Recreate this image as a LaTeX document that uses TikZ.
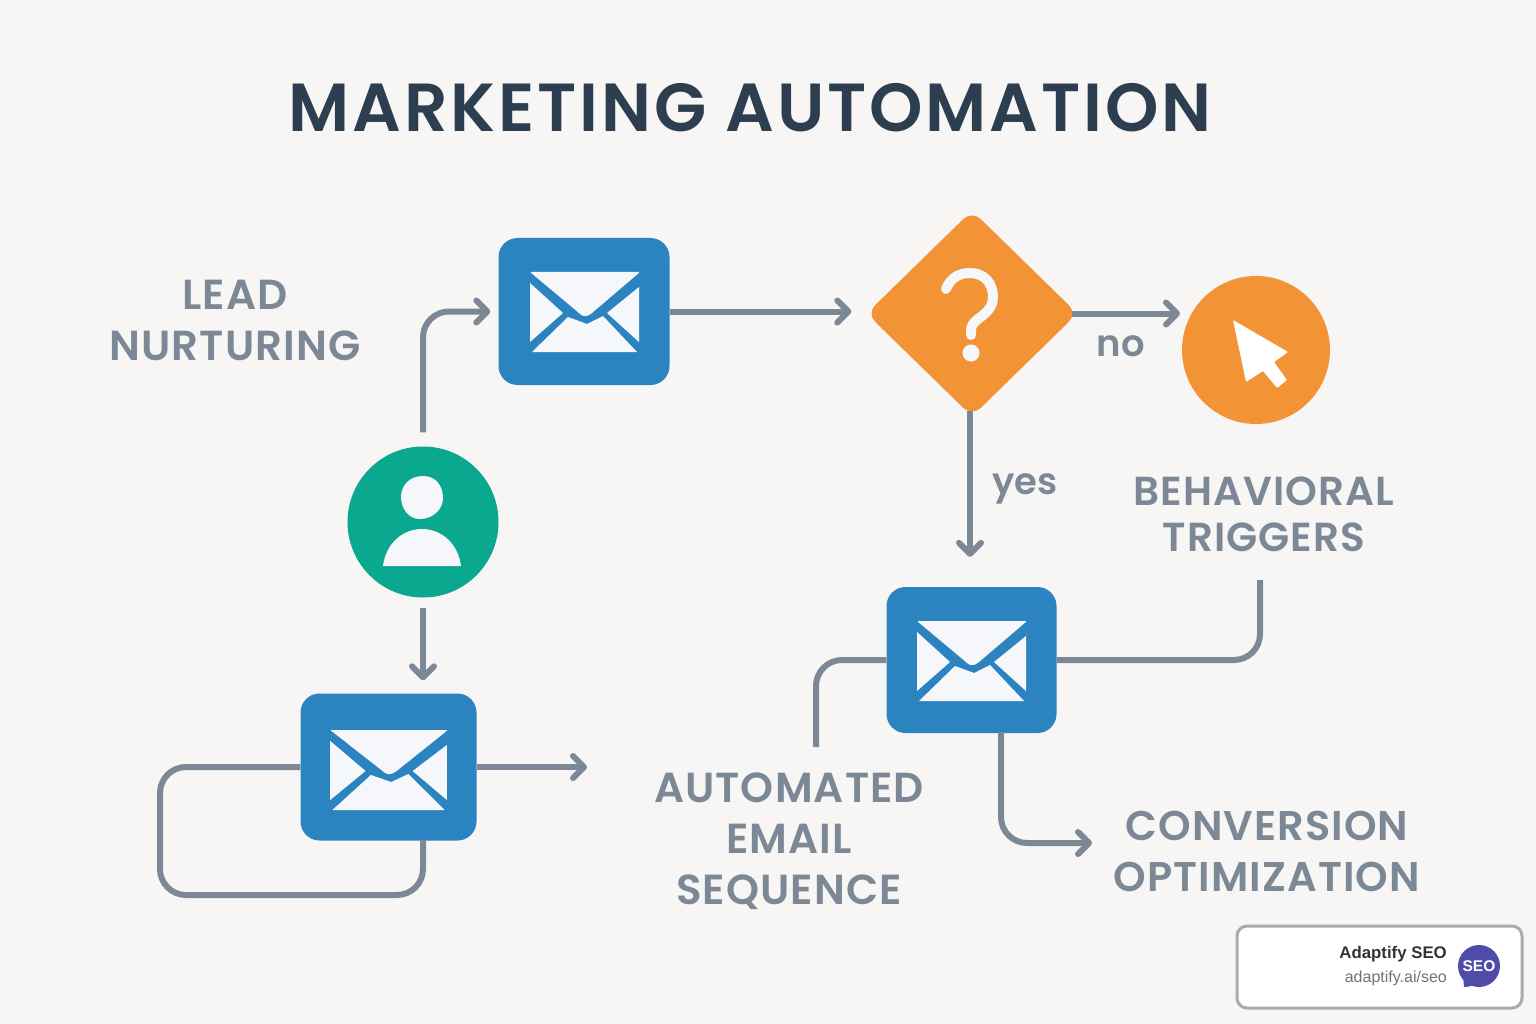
\documentclass[tikz,border=0pt]{standalone}
\usepackage{fontspec}
\setmainfont{Poppins}
\newfontfamily\titlefont[UprightFont={* SemiBold},LetterSpace=4.2]{Poppins}
\newfontfamily\labelfont[UprightFont={* SemiBold},LetterSpace=2.6]{Poppins}
\newfontfamily\plainfont[UprightFont={* SemiBold}]{Poppins}
\newfontfamily\badgefont{Liberation Sans}
\usetikzlibrary{arrows.meta,shapes.geometric}
\definecolor{bgc}{HTML}{F7F6F4}
\definecolor{inkc}{HTML}{2C3E50}
\definecolor{linec}{HTML}{7C8896}
\definecolor{bluec}{HTML}{2B84C0}
\definecolor{orangec}{HTML}{F29336}
\definecolor{greenc}{HTML}{0AA88F}
\definecolor{envc}{HTML}{F5F7FA}
\definecolor{seoc}{HTML}{4F4BA8}
\tikzset{
  x=1pt,y=-1pt,
  conn/.style={draw=linec,line width=6pt,rounded corners=26pt},
  tip/.style={-{Straight Barb[length=11pt,width=22pt,line width=6pt,round]}},
  mailbox/.style={rectangle,fill=bluec,rounded corners=19pt,inner sep=0pt},
  lab/.style={font=\labelfont\fontsize{42}{51}\selectfont,text=linec,align=center,inner sep=0pt},
  small/.style={font=\plainfont\fontsize{37}{40}\selectfont,text=linec,inner sep=0pt},
  env/.pic={
    \fill[envc,rounded corners=1pt] (-54,-39) -- (56,-39) -- (8,2) .. controls (3,6) and (-1,6) .. (-5,2) -- cycle;
    \fill[envc] (-54,-28) -- (-21,2) -- (-54,31) -- cycle;
    \fill[envc] (55,-24) -- (23,2) -- (55,31) -- cycle;
    \fill[envc] (-52,41) -- (-16,6) -- (3,13) -- (19,5) -- (53,41) -- cycle;
  }
}
\begin{document}
\begin{tikzpicture}
\useasboundingbox (0,0) rectangle (1536,1024);
\fill[bgc] (0,0) rectangle (1536,1024);

\node[font=\titlefont\fontsize{68}{80}\selectfont,text=inkc,inner sep=0pt] (title) at (750,108) {MARKETING AUTOMATION};

% shapes
\node[mailbox,minimum width=171pt,minimum height=147pt] (mailA) at (584,311.5) {};
\node[mailbox,minimum width=170pt,minimum height=146pt] (mailB) at (971.5,660) {};
\node[mailbox,minimum width=176pt,minimum height=147pt] (mailC) at (388.5,767) {};
\node[shape=diamond,aspect=1,fill=orangec,rounded corners=12pt,inner sep=0pt,minimum width=211pt,minimum height=206pt] (choice) at (972,313.5) {};
\node[circle,fill=orangec,inner sep=0pt,minimum size=148pt] (click) at (1256,350) {};
\node[circle,fill=greenc,inner sep=0pt,minimum size=151pt] (person) at (423,522) {};

% envelope glyphs
\pic at (584,311) {env};
\pic at (971,660) {env};
\pic[xscale=1.07] at (388,769) {env};

% question mark
\draw[envc,line width=10pt,line cap=round] (946,289) .. controls (951,277) and (960,273) .. (970,273) .. controls (984,273) and (993,283) .. (993,297) .. controls (993,308) and (985,314) .. (978,319) .. controls (973,323) and (971,326) .. (971,331) -- (971,335);
\fill[envc] (971,353) circle (8.5);

% cursor
\fill[white,rounded corners=1pt] (1233,320) -- (1288,352) -- (1274,362) -- (1287,380) -- (1277,388) -- (1263,371) -- (1246,382) -- cycle;

% person glyph
\fill[envc] (423,476) .. controls (436,476) and (443,486) .. (443,498) .. controls (443,510) and (432,519) .. (420,519) .. controls (408,519) and (401,508) .. (401,497) .. controls (401,485) and (410,476) .. (423,476) -- cycle;
\fill[envc] (383,566) .. controls (386,543) and (403,529) .. (422,529) .. controls (441,529) and (458,543) .. (461,566) -- cycle;

% free ends
\coordinate (endNo) at (1180,313);
\coordinate (endOut) at (587,767);
\coordinate (endH) at (816,747);
\coordinate (endI) at (1260,580);
\coordinate (endJ) at (1092,843);

% connectors
\draw[conn,tip,shorten <=14pt,shorten >=8pt] (person.north) -- (person.north |- mailA.west) -- (mailA.west);
\draw[conn,tip,shorten >=15pt] (mailA.east) -- (mailA.east -| choice.west);
\draw[conn,tip,shorten <=-6pt] (choice.east) -- (endNo |- choice.east);
\draw[conn,tip,shorten <=-6pt,shorten >=30pt] ([xshift=-2pt]choice.south) -- ([xshift=-2pt]choice.south |- mailB.north);
\draw[conn,tip,shorten <=10pt,shorten >=13pt] (person.south) -- (person.south |- mailC.north);
\draw[conn] (mailC.west) -- (160,767) -- (160,895) -- (423,895) -- (423,840);
\draw[conn,tip] (mailC.east) -- (endOut);
\draw[conn] (mailB.west) -- (endH |- mailB.west) -- (endH);
\draw[conn] (mailB.east) -- (endI |- mailB.east) -- (endI);
\draw[conn,tip] (1001,732) -- (1001,843) -- (endJ);

% labels
\node[lab] (lead) at (235,320) {LEAD\\NURTURING};
\node[lab,font=\labelfont\fontsize{40.5}{46}\selectfont] (behav) at (1264,514) {BEHAVIORAL\\TRIGGERS};
\node[lab] (auto) at (789,841) {AUTOMATED\\EMAIL\\SEQUENCE};
\node[lab,font=\labelfont\fontsize{41.5}{51}\selectfont] (conv) at (1267,851) {CONVERSION\\OPTIMIZATION};
\node[small] (yes) at (1025,489) {yes};
\node[small] (no) at (1121,346) {no};

% badge
\draw[draw=black!33,line width=3pt,fill=white,rounded corners=10pt] (1237,926) rectangle (1522,1008);
\node[anchor=east,inner sep=0pt,font=\badgefont\bfseries\fontsize{16.8}{20}\selectfont,text=black!80] (bt) at (1447,954) {Adaptify SEO};
\node[anchor=east,inner sep=0pt,font=\badgefont\fontsize{16}{20}\selectfont,text=black!55] (bu) at (1447,978) {adaptify.ai/seo};
\fill[seoc] (1479,966) circle (21);
\fill[seoc] (1463,975) -- (1464,987) .. controls (1470,987) and (1476,985) .. (1482,980) -- cycle;
\node[inner sep=0pt,font=\badgefont\bfseries\fontsize{15.5}{18}\selectfont,text=white] (bs) at (1479,966) {SEO};
\end{tikzpicture}
\end{document}
